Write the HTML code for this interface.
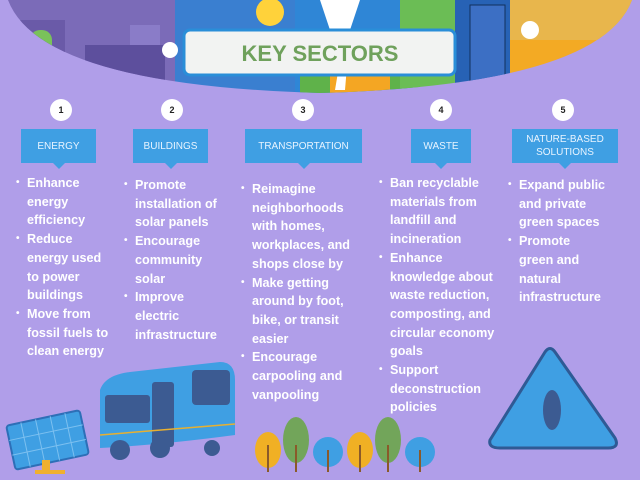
<!DOCTYPE html>
<html><head><meta charset="utf-8"><style>
body{margin:0;width:640px;height:480px;background:#b09ee9;position:relative;overflow:hidden;font-family:"Liberation Sans",sans-serif}
.a{position:absolute}
.num{position:absolute;width:22px;height:22px;border-radius:50%;background:#fff;color:#222;font-size:9px;font-weight:bold;text-align:center;line-height:22px}
.box{position:absolute;background:#3f9fe3;color:#e8f4ff;font-size:10px;text-align:center;display:flex;align-items:center;justify-content:center;line-height:13px}
.box:after{content:"";position:absolute;bottom:-6px;left:50%;margin-left:-6px;border-left:6px solid transparent;border-right:6px solid transparent;border-top:6px solid #3f9fe3}
.col{position:absolute;color:#fff;font-size:12.6px;font-weight:bold;line-height:18.7px;white-space:nowrap}
.col div{position:relative}
.col .b:before{content:"•";position:absolute;left:-11px;font-size:10px}
</style></head><body>
<svg class="a" style="left:0;top:0" width="640" height="120">
<defs><clipPath id="c"><path d="M8 0 H632 Q600 85 320 93 Q40 85 8 0Z"/></clipPath></defs>
<g clip-path="url(#c)">
<rect x="0" y="0" width="175" height="100" fill="#7b6bb8"/>
<rect x="175" y="0" width="120" height="100" fill="#3a7fd0"/>
<rect x="295" y="0" width="120" height="100" fill="#2f86d6"/>
<rect x="300" y="60" width="120" height="40" fill="#5fb24a"/>
<rect x="330" y="75" width="60" height="30" fill="#f4a623"/>
<rect x="400" y="0" width="60" height="100" fill="#6bbd55"/>
<rect x="455" y="0" width="55" height="100" fill="#2762b5"/>
<rect x="510" y="0" width="125" height="100" fill="#f3aa24"/>
<rect x="510" y="0" width="125" height="40" fill="#e8b64c"/>
<rect x="10" y="20" width="55" height="60" fill="#6a5aa8"/>
<rect x="30" y="30" width="22" height="25" rx="10" fill="#7ac25a"/>
<rect x="85" y="45" width="80" height="45" fill="#5d4f9d"/>
<rect x="130" y="25" width="30" height="20" fill="#8a7cc8"/>
<circle cx="270" cy="12" r="14" fill="#ffd23a"/>
<path d="M320 0 L330 30 L340 60 L335 90 L345 90 L350 30 L360 0Z" fill="#fff"/>
<circle cx="170" cy="50" r="8" fill="#fff"/><circle cx="530" cy="30" r="9" fill="#fff"/><circle cx="620" cy="40" r="7" fill="#fff"/>
<rect x="470" y="5" width="35" height="85" fill="#3c6fc4" stroke="#12305d" stroke-width="1"/>
</g>
<rect x="184" y="30" width="271" height="45" rx="6" fill="#f2f3f2" stroke="#2a8ed8" stroke-width="3"/>
<text x="320" y="61" text-anchor="middle" font-family="Liberation Sans" font-weight="bold" font-size="22" fill="#6fa15c">KEY SECTORS</text>
</svg>
<div class="num" style="left:50px;top:99px">1</div>
<div class="num" style="left:161px;top:99px">2</div>
<div class="num" style="left:292px;top:99px">3</div>
<div class="num" style="left:430px;top:99px">4</div>
<div class="num" style="left:552px;top:99px">5</div>
<div class="box" style="left:21px;top:129px;width:75px;height:34px">ENERGY</div>
<div class="box" style="left:133px;top:129px;width:75px;height:34px">BUILDINGS</div>
<div class="box" style="left:245px;top:129px;width:117px;height:34px">TRANSPORTATION</div>
<div class="box" style="left:411px;top:129px;width:60px;height:34px">WASTE</div>
<div class="box" style="left:512px;top:129px;width:106px;height:34px">NATURE-BASED<br>SOLUTIONS</div>
<div class="col" style="left:27px;top:174px"><div class="b">Enhance</div><div>energy</div><div>efficiency</div><div class="b">Reduce</div><div>energy used</div><div>to power</div><div>buildings</div><div class="b">Move from</div><div>fossil fuels to</div><div>clean energy</div></div>
<div class="col" style="left:135px;top:176px"><div class="b">Promote</div><div>installation of</div><div>solar panels</div><div class="b">Encourage</div><div>community</div><div>solar</div><div class="b">Improve</div><div>electric</div><div>infrastructure</div></div>
<div class="col" style="left:252px;top:180px"><div class="b">Reimagine</div><div>neighborhoods</div><div>with homes,</div><div>workplaces, and</div><div>shops close by</div><div class="b">Make getting</div><div>around by foot,</div><div>bike, or transit</div><div>easier</div><div class="b">Encourage</div><div>carpooling and</div><div>vanpooling</div></div>
<div class="col" style="left:390px;top:174px"><div class="b">Ban recyclable</div><div>materials from</div><div>landfill and</div><div>incineration</div><div class="b">Enhance</div><div>knowledge about</div><div>waste reduction,</div><div>composting, and</div><div>circular economy</div><div>goals</div><div class="b">Support</div><div>deconstruction</div><div>policies</div></div>
<div class="col" style="left:519px;top:176px"><div class="b">Expand public</div><div>and private</div><div>green spaces</div><div class="b">Promote</div><div>green and</div><div>natural</div><div>infrastructure</div></div>
<svg class="a" style="left:0;top:340px" width="640" height="140">
<g transform="rotate(-12 45 100)"><rect x="10" y="78" width="75" height="45" rx="3" fill="#3f9fe3" stroke="#2d6fb7" stroke-width="2"/>
<path d="M10 93H85M10 108H85M25 78V123M40 78V123M55 78V123M70 78V123" stroke="#7cc0f0" stroke-width="1"/></g>
<rect x="42" y="120" width="8" height="12" fill="#f0b030"/><rect x="35" y="130" width="30" height="4" fill="#f0b030"/>
<path d="M100 50 Q105 35 130 32 L220 22 Q235 22 235 40 L235 95 Q160 105 100 108Z" fill="#3f9fe3"/>
<rect x="105" y="55" width="45" height="28" rx="3" fill="#3c5b92"/>
<rect x="152" y="42" width="22" height="65" rx="3" fill="#3c5b92"/>
<rect x="192" y="30" width="38" height="35" rx="4" fill="#3c5b92"/>
<path d="M100 95 L235 84" stroke="#e8b030" stroke-width="1.5"/>
<circle cx="120" cy="110" r="10" fill="#3c5b92"/><circle cx="160" cy="108" r="10" fill="#3c5b92"/><circle cx="212" cy="108" r="8" fill="#3c5b92"/>
<g><ellipse cx="268" cy="110" rx="13" ry="18" fill="#f0b024"/><ellipse cx="296" cy="100" rx="13" ry="23" fill="#72a55a"/><ellipse cx="328" cy="112" rx="15" ry="15" fill="#3f9fe3"/>
<ellipse cx="360" cy="110" rx="13" ry="18" fill="#f0b024"/><ellipse cx="388" cy="100" rx="13" ry="23" fill="#72a55a"/><ellipse cx="420" cy="112" rx="15" ry="15" fill="#3f9fe3"/>
<path d="M268 105V132M296 105V132M328 110V132M360 105V132M388 105V132M420 110V132" stroke="#8a5a2a" stroke-width="2"/></g>
<path d="M545 12 L490 100 Q488 108 500 108 L608 108 Q620 108 615 98 L555 12 Q550 5 545 12Z" fill="#3f9fe3" stroke="#2f5a95" stroke-width="3" stroke-linejoin="round"/>
<ellipse cx="552" cy="70" rx="9" ry="20" fill="#3c5b92"/>
</svg>
</body></html>
